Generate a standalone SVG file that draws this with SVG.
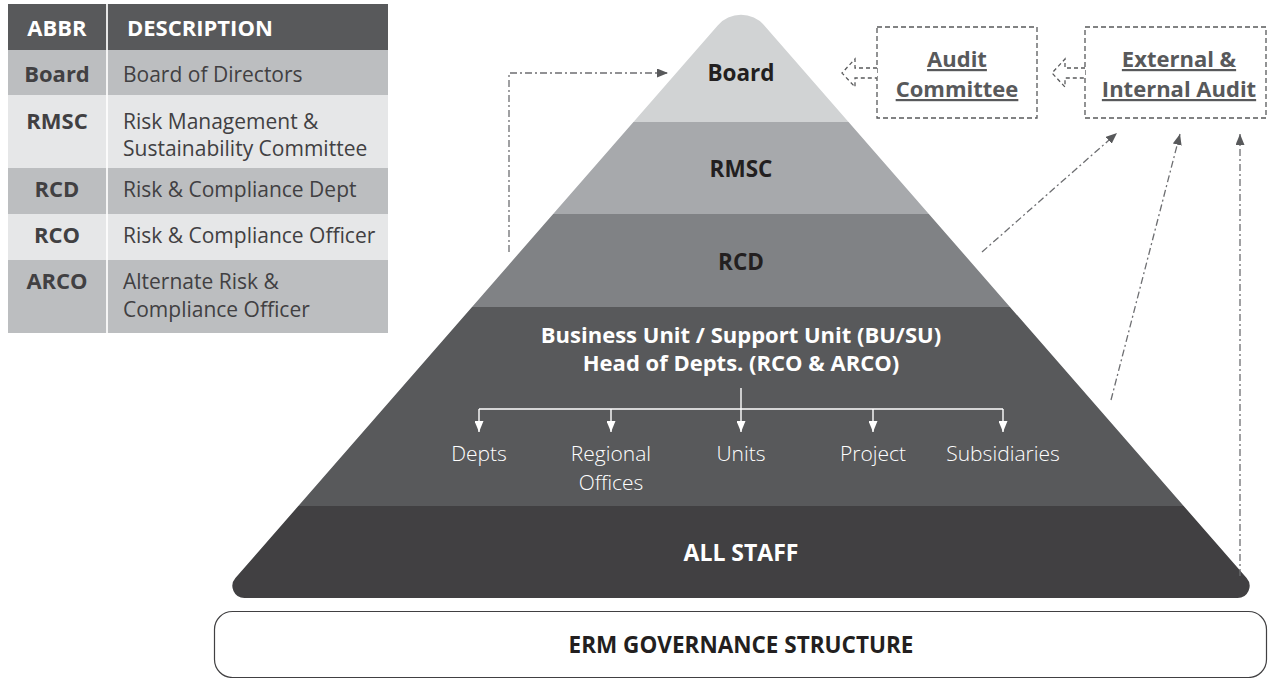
<svg xmlns="http://www.w3.org/2000/svg" width="1268" height="678" viewBox="0 0 1268 678">
<style>
text{font-family:"Open Sans","Liberation Sans",sans-serif}
.hd{font-weight:700;font-size:22px;fill:#ffffff}
.ab{font-weight:700;font-size:22px;fill:#414042;text-anchor:middle}
.ds{font-size:21px;fill:#414042}
.tier{font-weight:700;font-size:22.5px;fill:#231f20;text-anchor:middle}
.wt{font-weight:700;font-size:22px;fill:#ffffff;text-anchor:middle}
.sub{font-weight:300;font-size:21px;fill:#ffffff;text-anchor:middle}
.aud{font-weight:700;font-size:22px;fill:#58595b;text-anchor:middle;text-decoration:underline}
.dd{fill:none;stroke:#6d6e71;stroke-width:1.3;stroke-dasharray:7 3 2 3}
.dbox{fill:none;stroke:#58595b;stroke-width:1.3;stroke-dasharray:5 3}
.hollow{fill:#ffffff;stroke:#58595b;stroke-width:1.3;stroke-dasharray:4 3}
.tree{fill:none;stroke:#ffffff;stroke-width:1.4}
</style>
<defs>
<clipPath id="pyr"><path d="M717.7,25.4 L235.4,578.1 A12,12 0 0 0 244.4,598 L1237.6,598 A12,12 0 0 0 1246.6,578.1 L764.3,25.4 A31,31 0 0 0 717.7,25.4 Z"/></clipPath>
<marker id="ah" markerWidth="11" markerHeight="9" refX="11" refY="4.5" orient="auto" markerUnits="userSpaceOnUse"><path d="M0,0 L11,4.5 L0,9 Z" fill="#58595b"/></marker>
<marker id="wa" markerWidth="11" markerHeight="9" refX="11" refY="4.5" orient="auto" markerUnits="userSpaceOnUse"><path d="M0,0 L11,4.5 L0,9 Z" fill="#ffffff"/></marker>
</defs>

<g id="legend">
<rect x="8" y="4" width="380" height="46" fill="#58595b"/>
<rect x="8" y="50" width="380" height="45" fill="#bcbec0"/>
<rect x="8" y="95" width="380" height="73" fill="#e6e7e8"/>
<rect x="8" y="168" width="380" height="46" fill="#bcbec0"/>
<rect x="8" y="214" width="380" height="46" fill="#e6e7e8"/>
<rect x="8" y="260" width="380" height="73" fill="#bcbec0"/>
<line x1="107" y1="4" x2="107" y2="333" stroke="#ffffff" stroke-width="2" opacity="0.85"/>
<text class="hd" x="57" y="36" text-anchor="middle">ABBR</text>
<text class="hd" x="127" y="36">DESCRIPTION</text>
<text class="ab" x="57" y="82">Board</text>
<text class="ds" x="123" y="82">Board of Directors</text>
<text class="ab" x="57" y="129">RMSC</text>
<text class="ds" x="123" y="129">Risk Management &amp;</text>
<text class="ds" x="123" y="156">Sustainability Committee</text>
<text class="ab" x="57" y="197">RCD</text>
<text class="ds" x="123" y="197">Risk &amp; Compliance Dept</text>
<text class="ab" x="57" y="243">RCO</text>
<text class="ds" x="123" y="243">Risk &amp; Compliance Officer</text>
<text class="ab" x="57" y="289">ARCO</text>
<text class="ds" x="123" y="289">Alternate Risk &amp;</text>
<text class="ds" x="123" y="317">Compliance Officer</text>
</g>

<g id="tier-board"><rect x="200" y="0" width="1080" height="122" fill="#d1d3d4" clip-path="url(#pyr)"/><text class="tier" x="741" y="81">Board</text></g>
<g id="tier-rmsc"><rect x="200" y="122" width="1080" height="92" fill="#a7a9ac" clip-path="url(#pyr)"/><text class="tier" x="741" y="177">RMSC</text></g>
<g id="tier-rcd"><rect x="200" y="214" width="1080" height="93" fill="#808285" clip-path="url(#pyr)"/><text class="tier" x="741" y="270">RCD</text></g>
<g id="tier-bu"><rect x="200" y="307" width="1080" height="199" fill="#58595b" clip-path="url(#pyr)"/>
<text class="wt" x="741" y="343">Business Unit / Support Unit (BU/SU)</text>
<text class="wt" x="741" y="371">Head of Depts. (RCO &amp; ARCO)</text>
<g id="bu-tree">
<path class="tree" d="M479,409 H1003"/>
<path class="tree" d="M741,388 V432" marker-end="url(#wa)"/>
<path class="tree" d="M479,409 V432" marker-end="url(#wa)"/>
<path class="tree" d="M611,409 V432" marker-end="url(#wa)"/>
<path class="tree" d="M873,409 V432" marker-end="url(#wa)"/>
<path class="tree" d="M1003,409 V432" marker-end="url(#wa)"/>
</g>
<text class="sub" x="479" y="461">Depts</text>
<text class="sub" x="611" y="461">Regional</text>
<text class="sub" x="611" y="490">Offices</text>
<text class="sub" x="741" y="461">Units</text>
<text class="sub" x="873" y="461">Project</text>
<text class="sub" x="1003" y="461">Subsidiaries</text>
</g>
<g id="tier-staff"><rect x="200" y="506" width="1080" height="100" fill="#414042" clip-path="url(#pyr)"/><text class="wt" x="741" y="561" style="font-size:23px">ALL STAFF</text></g>

<g id="footer"><rect x="214.5" y="611.5" width="1052" height="66" rx="18" fill="#ffffff" stroke="#414042" stroke-width="1.2"/><text x="741" y="653" text-anchor="middle" style="font-weight:700;font-size:22.5px;fill:#231f20">ERM GOVERNANCE STRUCTURE</text></g>

<g id="audit-committee"><rect class="dbox" x="877" y="27" width="160" height="91"/><text class="aud" x="957" y="67">Audit</text><text class="aud" x="957" y="97">Committee</text></g>
<g id="ext-int-audit"><rect class="dbox" x="1085" y="27" width="181" height="91"/><text class="aud" x="1179" y="67">External &amp;</text><text class="aud" x="1179" y="97">Internal Audit</text></g>

<g id="connectors">
<path class="dd" d="M509,252 V73 H668" marker-end="url(#ah)"/>
<polyline class="hollow" points="877,68 855,68 855,59 842,73 855,87 855,78 877,78"/>
<polyline class="hollow" points="1085,68 1065,68 1065,59 1052,73 1065,87 1065,78 1085,78"/>
<path class="dd" d="M982,252 L1117,133" marker-end="url(#ah)"/>
<path class="dd" d="M1111,400 L1180,134" marker-end="url(#ah)"/>
<path class="dd" d="M1240,576 V134" marker-end="url(#ah)"/>
</g>
</svg>
